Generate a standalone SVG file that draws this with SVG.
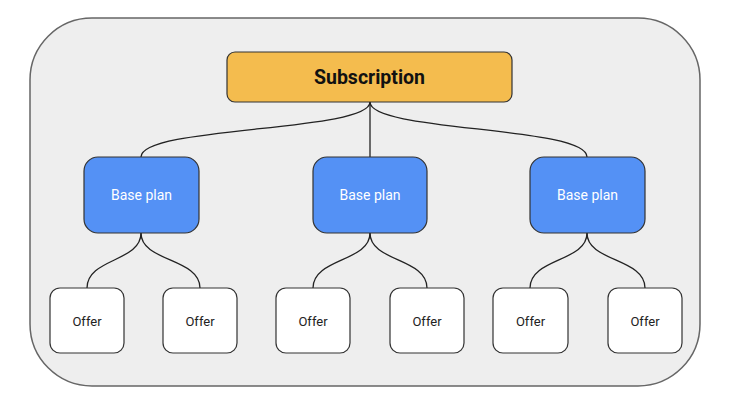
<svg xmlns="http://www.w3.org/2000/svg" width="743" height="400" viewBox="0 0 743 400">
<style>
.c{fill:none;stroke:#222;stroke-width:1.3}
.sub{fill:#F4BC4E;stroke:#333;stroke-width:1.2}
.bp{fill:#5491F5;stroke:#333;stroke-width:1.2}
.of{fill:#fff;stroke:#333;stroke-width:1.2}
.t{font-family:Roboto,"Open Sans",sans-serif;text-anchor:middle;dominant-baseline:central}
</style>
<rect width="743" height="400" fill="#fff"/>
<rect x="30" y="18" width="670" height="368" rx="62" fill="#EEEEEE" stroke="#666" stroke-width="1.5"/>
<g id="connectors">
<path class="c" d="M370 102 C370 132 141 126 141 157"/>
<path class="c" d="M370 102 L370 157"/>
<path class="c" d="M370 102 C370 132 587 126 587 157"/>
<path class="c" d="M141 233 C141 262 87 258 87 288"/>
<path class="c" d="M141 233 C141 262 200 258 200 288"/>
<path class="c" d="M370 233 C370 262 313 258 313 288"/>
<path class="c" d="M370 233 C370 262 427 258 427 288"/>
<path class="c" d="M587 233 C587 262 530 258 530 288"/>
<path class="c" d="M587 233 C587 262 645 258 645 288"/>
</g>
<g id="subscription"><rect class="sub" x="227" y="52" width="285" height="50" rx="8"/><text class="t" x="369.5" y="77" font-size="19.5" font-weight="bold" fill="#111">Subscription</text></g>
<g id="bp1"><rect class="bp" x="84" y="157" width="115" height="76" rx="14"/><text class="t" x="141.5" y="195" font-size="14" fill="#fff">Base plan</text></g>
<g id="bp2"><rect class="bp" x="313" y="157" width="114" height="76" rx="14"/><text class="t" x="370" y="195" font-size="14" fill="#fff">Base plan</text></g>
<g id="bp3"><rect class="bp" x="530" y="157" width="115" height="76" rx="14"/><text class="t" x="587.5" y="195" font-size="14" fill="#fff">Base plan</text></g>
<g id="of1"><rect class="of" x="50" y="288" width="74" height="65" rx="10"/><text class="t" x="87" y="321" font-size="13" fill="#222">Offer</text></g>
<g id="of2"><rect class="of" x="163" y="288" width="74" height="65" rx="10"/><text class="t" x="200" y="321" font-size="13" fill="#222">Offer</text></g>
<g id="of3"><rect class="of" x="276" y="288" width="74" height="65" rx="10"/><text class="t" x="313" y="321" font-size="13" fill="#222">Offer</text></g>
<g id="of4"><rect class="of" x="390" y="288" width="74" height="65" rx="10"/><text class="t" x="427" y="321" font-size="13" fill="#222">Offer</text></g>
<g id="of5"><rect class="of" x="493" y="288" width="75" height="65" rx="10"/><text class="t" x="530.5" y="321" font-size="13" fill="#222">Offer</text></g>
<g id="of6"><rect class="of" x="608" y="288" width="74" height="65" rx="10"/><text class="t" x="645" y="321" font-size="13" fill="#222">Offer</text></g>
</svg>
